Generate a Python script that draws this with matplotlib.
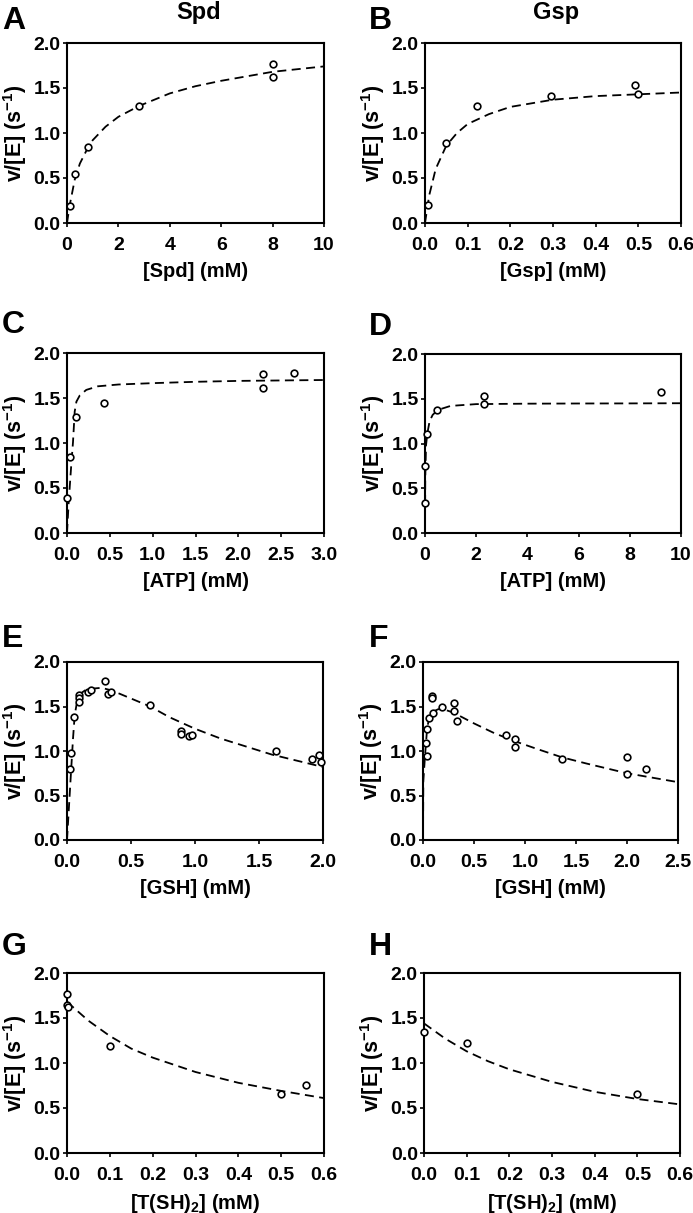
import matplotlib
matplotlib.use("Agg")
import matplotlib.pyplot as plt

# ---- data (x in mM, y = v/[E] in s^-1) ----
# A: Spd
spd_x = [0.1, 0.32, 0.8, 2.8, 8.0, 8.0]
spd_y = [0.19, 0.55, 0.85, 1.30, 1.77, 1.62]
spd_fit_x = [0, 0.1, 0.3, 0.5, 0.8, 1.0, 1.5, 2.0, 2.8, 4, 5, 6, 7, 8, 9, 10]
spd_fit_y = [0, 0.19, 0.48, 0.66, 0.83, 0.92, 1.07, 1.18, 1.30, 1.44, 1.52, 1.58, 1.63, 1.68, 1.71, 1.74]

# B: Gsp
gsp_x = [0.008, 0.05, 0.122, 0.296, 0.493, 0.499]
gsp_y = [0.20, 0.89, 1.30, 1.41, 1.53, 1.43]
gsp_fit_x = [0, 0.01, 0.025, 0.05, 0.075, 0.1, 0.15, 0.2, 0.3, 0.4, 0.5, 0.6]
gsp_fit_y = [0, 0.31, 0.60, 0.86, 1.00, 1.10, 1.21, 1.29, 1.37, 1.41, 1.43, 1.45]

# C: ATP (Spd)
atp1_x = [0.004, 0.03, 0.11, 0.43, 2.29, 2.29, 2.65]
atp1_y = [0.385, 0.84, 1.29, 1.45, 1.77, 1.61, 1.78]
atp1_fit_x = [0, 0.02, 0.05, 0.07, 0.09, 0.11, 0.15, 0.225, 0.36, 0.6, 1.0, 1.5, 2.0, 2.5, 3.0]
atp1_fit_y = [0, 0.35, 0.76, 1.01, 1.35, 1.46, 1.53, 1.59, 1.63, 1.65, 1.665, 1.68, 1.69, 1.695, 1.70]

# D: ATP (Gsp)
atp2_x = [0.01, 0.01, 0.09, 0.47, 2.3, 2.3, 9.2]
atp2_y = [0.33, 0.75, 1.11, 1.37, 1.53, 1.44, 1.57]
atp2_fit_x = [0, 0.01, 0.04, 0.09, 0.18, 0.3, 0.5, 1.0, 2.0, 4, 6, 8, 10]
atp2_fit_y = [0, 0.62, 0.98, 1.11, 1.25, 1.32, 1.375, 1.42, 1.44, 1.445, 1.447, 1.448, 1.45]

# E: GSH (Spd)
gsh1_x = [0.026, 0.034, 0.052, 0.09, 0.09, 0.09, 0.164, 0.185, 0.294, 0.32, 0.34,
          0.651, 0.893, 0.893, 0.953, 0.979, 1.635, 1.914, 1.966, 1.984]
gsh1_y = [0.80, 0.98, 1.38, 1.63, 1.60, 1.55, 1.665, 1.69, 1.785, 1.64, 1.66,
          1.52, 1.22, 1.19, 1.17, 1.185, 1.00, 0.915, 0.96, 0.88]
gsh1_fit_x = [0, 0.016, 0.03, 0.047, 0.06, 0.078, 0.11, 0.15, 0.19, 0.27, 0.35,
              0.5, 0.65, 0.8, 1.0, 1.2, 1.4, 1.6, 1.8, 2.0]
gsh1_fit_y = [0, 0.39, 0.73, 1.14, 1.40, 1.55, 1.65, 1.69, 1.70, 1.71, 1.68,
              1.59, 1.50, 1.38, 1.25, 1.14, 1.05, 0.96, 0.89, 0.82]

# F: GSH (Gsp)
gsh2_x = [0.036, 0.03, 0.04, 0.06, 0.095, 0.088, 0.088, 0.19, 0.30, 0.30, 0.33,
          0.817, 0.899, 0.899, 1.363, 2.003, 2.003, 2.183]
gsh2_y = [0.94, 1.09, 1.25, 1.37, 1.43, 1.62, 1.60, 1.49, 1.54, 1.45, 1.34,
          1.185, 1.14, 1.04, 0.905, 0.93, 0.74, 0.80]
gsh2_fit_x = [0, 0.003, 0.02, 0.04, 0.06, 0.095, 0.15, 0.2, 0.3, 0.4, 0.5,
              0.7, 0.9, 1.1, 1.36, 1.6, 2.0, 2.5]
gsh2_fit_y = [0, 0.66, 0.95, 1.25, 1.37, 1.44, 1.47, 1.47, 1.43, 1.37, 1.31,
              1.20, 1.11, 1.03, 0.93, 0.86, 0.75, 0.65]

# G: T(SH)2 (Spd)
tsh1_x = [0.0, 0.0, 0.002, 0.1, 0.5, 0.557]
tsh1_y = [1.77, 1.64, 1.62, 1.185, 0.655, 0.755]
tsh1_fit_x = [0, 0.05, 0.1, 0.15, 0.2, 0.3, 0.4, 0.5, 0.6]
tsh1_fit_y = [1.68, 1.47, 1.30, 1.16, 1.06, 0.90, 0.78, 0.69, 0.61]

# H: T(SH)2 (Gsp)
tsh2_x = [0.0, 0.1, 0.5]
tsh2_y = [1.34, 1.22, 0.66]
tsh2_fit_x = [0, 0.05, 0.1, 0.15, 0.2, 0.3, 0.4, 0.5, 0.6]
tsh2_fit_y = [1.44, 1.27, 1.13, 1.02, 0.93, 0.79, 0.68, 0.60, 0.54]

W, H = 693, 1213

plt.rcParams['font.family'] = ['Liberation Sans', 'DejaVu Sans']
plt.rcParams['font.weight'] = 'bold'
plt.rcParams['mathtext.fontset'] = 'custom'
plt.rcParams['mathtext.rm'] = 'Liberation Sans:bold'
plt.rcParams['mathtext.bf'] = 'Liberation Sans:bold'
plt.rcParams['mathtext.it'] = 'Liberation Sans:bold'
plt.rcParams['mathtext.default'] = 'rm'

fig = plt.figure(figsize=(W / 100, H / 100), dpi=100)

# panel: (letter, box px (l, t, r, b), points, fit, xmax, xticks, xlabel, letter pos)
panels = [
    ('A', (67, 43, 324, 223), spd_x, spd_y, spd_fit_x, spd_fit_y, 10,
     [0, 2, 4, 6, 8, 10], '%d', '[Spd] (mM)', (2, 29)),
    ('B', (425, 43, 681, 223), gsp_x, gsp_y, gsp_fit_x, gsp_fit_y, 0.6,
     [0, 0.1, 0.2, 0.3, 0.4, 0.5, 0.6], '%.1f', '[Gsp] (mM)', (369, 29)),
    ('C', (67, 353, 324, 533), atp1_x, atp1_y, atp1_fit_x, atp1_fit_y, 3.0,
     [0, 0.5, 1.0, 1.5, 2.0, 2.5, 3.0], '%.1f', '[ATP] (mM)', (2, 333)),
    ('D', (425, 354, 681, 533), atp2_x, atp2_y, atp2_fit_x, atp2_fit_y, 10,
     [0, 2, 4, 6, 8, 10], '%d', '[ATP] (mM)', (369, 335)),
    ('E', (67, 662, 323, 840), gsh1_x, gsh1_y, gsh1_fit_x, gsh1_fit_y, 2.0,
     [0, 0.5, 1.0, 1.5, 2.0], '%.1f', '[GSH] (mM)', (2, 647)),
    ('F', (423, 662, 678, 840), gsh2_x, gsh2_y, gsh2_fit_x, gsh2_fit_y, 2.5,
     [0, 0.5, 1.0, 1.5, 2.0, 2.5], '%.1f', '[GSH] (mM)', (369, 647)),
    ('G', (67, 973, 324, 1153), tsh1_x, tsh1_y, tsh1_fit_x, tsh1_fit_y, 0.6,
     [0, 0.1, 0.2, 0.3, 0.4, 0.5, 0.6], '%.1f', '[T(SH)$_2$] (mM)', (2, 955)),
    ('H', (424, 973, 680, 1153), tsh2_x, tsh2_y, tsh2_fit_x, tsh2_fit_y, 0.6,
     [0, 0.1, 0.2, 0.3, 0.4, 0.5, 0.6], '%.1f', '[T(SH)$_2$] (mM)', (369, 955)),
]

for letter, box, px, py, fx, fy, xmax, xticks, fmt, xlabel, lpos in panels:
    l, t, r, b = box
    ax = fig.add_axes([l / W, 1 - b / H, (r - l) / W, (b - t) / H])
    ax.plot(fx, fy, color='black', lw=1.3, linestyle=(0, (5, 3)), zorder=2)
    ax.plot(px, py, 'o', ms=4.8, mfc='white', mec='black', mew=1.2,
            clip_on=False, zorder=3)
    ax.set_xlim(0, xmax)
    ax.set_ylim(0, 2.0)
    ax.set_xticks(xticks)
    ax.set_xticklabels([fmt % v for v in xticks])
    ax.set_yticks([0, 0.5, 1.0, 1.5, 2.0])
    ax.set_yticklabels(['0.0', '0.5', '1.0', '1.5', '2.0'])
    for s in ax.spines.values():
        s.set_linewidth(1.5)
    ax.tick_params(direction='out', length=3, width=1.2, labelsize=14)
    ax.tick_params(axis='x', pad=7)
    ax.tick_params(axis='y', pad=1.5)
    ax.set_xlabel(xlabel, fontsize=14.5, fontweight='bold')
    ax.set_ylabel('v/[E] (s$^{-1}$)', fontsize=15.5, fontweight='bold')
    ax.xaxis.set_label_coords(0.5, -39 / (b - t))
    ax.yaxis.set_label_coords(-38 / (r - l), 0.5)
    fig.text(lpos[0] / W, 1 - lpos[1] / H, letter, fontsize=23,
             fontweight='bold', ha='left', va='baseline')

fig.text(199 / W, 1 - 19 / H, 'Spd', fontsize=17, fontweight='bold',
         ha='center', va='baseline')
fig.text(556 / W, 1 - 19 / H, 'Gsp', fontsize=17, fontweight='bold',
         ha='center', va='baseline')

fig.savefig('out.png', dpi=100)
plt.close(fig)
